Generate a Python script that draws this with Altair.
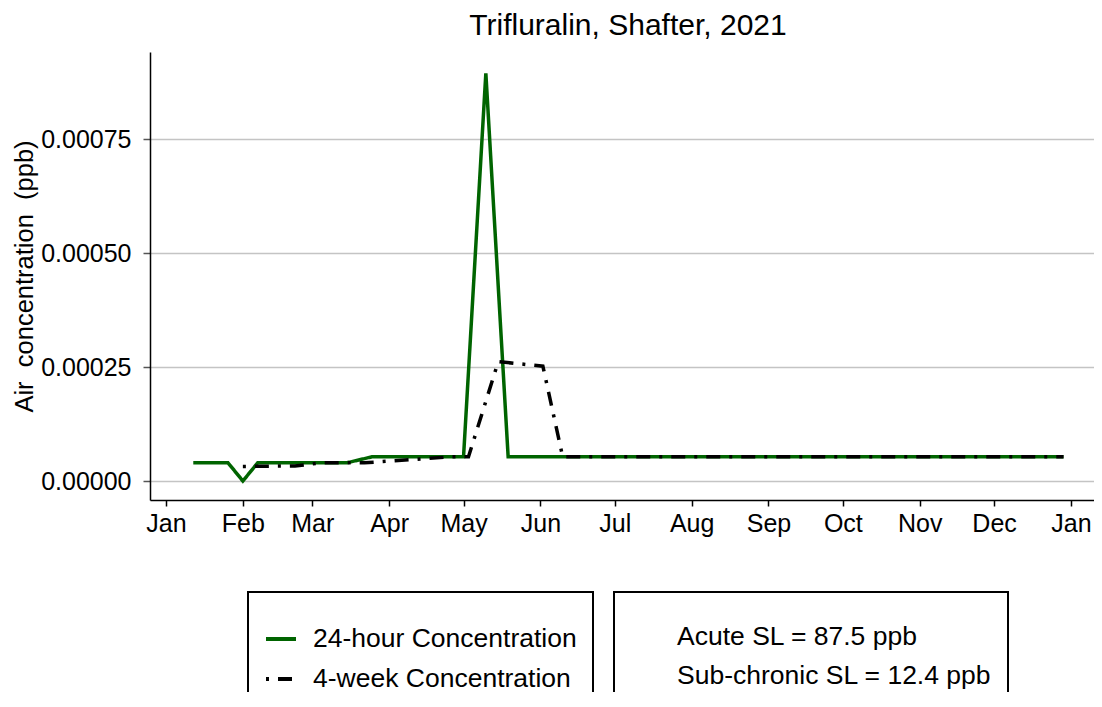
import altair as alt
import pandas as pd

series_names = ["24-hour Concentration", "4-week Concentration"]

h24_dates = ["2021-01-12", "2021-01-26", "2021-02-01", "2021-02-07", "2021-03-15",
             "2021-03-25", "2021-05-01", "2021-05-10", "2021-05-19", "2021-12-29"]
h24_values = [0.00004, 0.00004, 0.0, 0.00004, 0.00004,
              0.000053, 0.000053, 0.000895, 0.000053, 0.000053]

w4_dates = ["2021-02-01", "2021-02-22", "2021-03-05", "2021-03-22", "2021-04-26",
            "2021-05-03", "2021-05-15", "2021-06-02", "2021-06-10", "2021-12-29"]
w4_values = [0.000032, 0.000033, 0.00004, 0.00004, 0.000053,
             0.000053, 0.000262, 0.000252, 0.000053, 0.000053]

sl_labels = ["Acute SL = 87.5 ppb", "Sub-chronic SL = 12.4 ppb"]
y_ticks = [0.0, 0.00025, 0.0005, 0.00075]

FONT = "Liberation Sans"

rows = []
for d, v in zip(h24_dates, h24_values):
    rows.append({"series": series_names[0], "date": d + "T00:00:00", "value": v})
for d, v in zip(w4_dates, w4_values):
    rows.append({"series": series_names[1], "date": d + "T00:00:00", "value": v})
df = pd.DataFrame(rows)

df_sl = pd.DataFrame({"sl": sl_labels,
                      "date": ["2021-06-01T00:00:00"] * 2,
                      "value": [0.0, 0.0]})

x_scale = alt.Scale(domain=[alt.DateTime(year=2020, month=12, date=25, hours=13),
                            alt.DateTime(year=2022, month=1, date=10, hours=7)],
                    nice=False)
y_scale = alt.Scale(domain=[-0.0000417, 0.0009416], nice=False, zero=False)

month_vals = [alt.DateTime(year=2021, month=m, date=1) for m in range(1, 13)] + \
             [alt.DateTime(year=2022, month=1, date=1)]

x_axis = alt.Axis(values=month_vals, format="%b", title="", grid=False,
                  labelFontSize=25, labelColor="black", labelFont=FONT,
                  labelPadding=5, tickSize=6, tickColor="black", tickWidth=1.5,
                  domainColor="black", domainWidth=1.5, labelFlush=False)
y_axis = alt.Axis(values=y_ticks, format=".5f", title="Air\u00a0 concentration\u00a0 (ppb)",
                  grid=True, gridColor="#c4c4c4", gridWidth=1.5,
                  labelFontSize=25, labelColor="black", labelFont=FONT,
                  labelPadding=12, tickSize=7, tickColor="#555555", tickWidth=1.5,
                  domainColor="black", domainWidth=1.5,
                  titleFontSize=25.5, titleFont=FONT, titleFontWeight="normal",
                  titleColor="black", titlePadding=3)

legend1 = alt.Legend(title=" ", orient="none", legendX=98, legendY=540,
                     strokeColor="black", padding=16,
                     labelFontSize=26.5, labelFont=FONT, labelColor="black",
                     labelLimit=600, labelOffset=15,
                     symbolType="stroke", symbolSize=900, symbolStrokeWidth=4,
                     rowPadding=9, titleFontSize=8, titlePadding=6)

legend2 = alt.Legend(title=" ", orient="none", legendX=464, legendY=540,
                     strokeColor="black", padding=16,
                     labelFontSize=26.5, labelFont=FONT, labelColor="black",
                     labelLimit=600, labelOffset=17,
                     symbolSize=900, symbolOpacity=0, symbolStrokeWidth=0,
                     rowPadding=9, titleFontSize=8, titlePadding=6)

color_scale = alt.Scale(domain=series_names, range=["#006400", "#000000"])
dash_scale = alt.Scale(domain=series_names, range=[[1, 0], [3, 9, 14, 9]])

def line_layer(name):
    return alt.Chart(df).transform_filter(
        alt.datum.series == name
    ).mark_line(strokeWidth=3.5).encode(
        x=alt.X("date:T", scale=x_scale, axis=x_axis),
        y=alt.Y("value:Q", scale=y_scale, axis=y_axis),
        color=alt.Color("series:N", scale=color_scale, legend=legend1),
        strokeDash=alt.StrokeDash("series:N", scale=dash_scale, legend=legend1),
    )

green = line_layer(series_names[0])
black = line_layer(series_names[1])

sl_layer = alt.Chart(df_sl).mark_point(opacity=0).encode(
    x=alt.X("date:T", scale=x_scale, axis=x_axis),
    y=alt.Y("value:Q", scale=y_scale, axis=y_axis),
    shape=alt.Shape("sl:N", scale=alt.Scale(domain=sl_labels), legend=legend2),
)

chart = alt.layer(green, black, sl_layer).properties(
    width=944, height=448,
    padding={"left": 142, "top": 44, "right": 0, "bottom": 192},
    autosize=alt.AutoSizeParams(type="none"),
    title=alt.TitleParams("Trifluralin, Shafter, 2021", fontSize=30, font=FONT,
                          fontWeight="normal", color="black", anchor="middle",
                          offset=11, dx=6),
).configure_view(strokeWidth=0).configure_legend(strokeWidth=2)

chart.save("out.html", embed_options={"renderer": "svg", "actions": False})
